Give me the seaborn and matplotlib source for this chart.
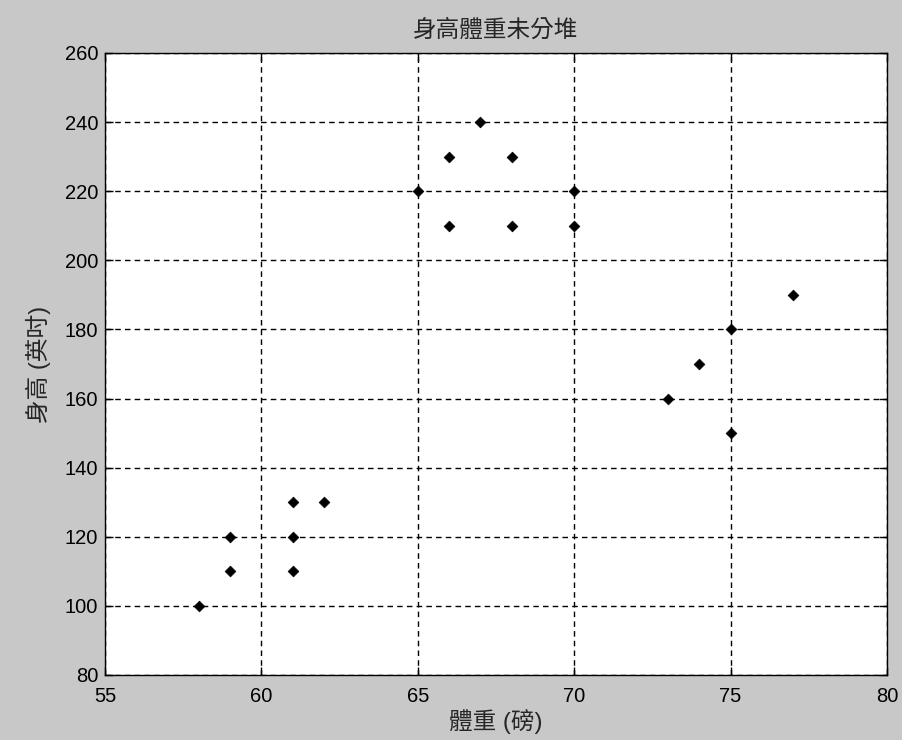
import pandas as pd
import matplotlib.pyplot as plt
import seaborn as sns

# weight (pounds) and height values
weight = [58, 59, 59, 61, 61, 61, 62,
          65, 66, 66, 67, 68, 68, 70, 70,
          73, 74, 75, 75, 77]
height = [100, 110, 120, 110, 120, 130, 130,
          220, 210, 230, 240, 230, 210, 220, 210,
          160, 170, 180, 150, 190]

x_ticks = [55, 60, 65, 70, 75, 80]
y_ticks = [80, 100, 120, 140, 160, 180, 200, 220, 240, 260]

df = pd.DataFrame({"weight": weight, "height": height})

sns.set_style("white")
plt.rcParams['font.family'] = ['Liberation Sans Narrow', 'Liberation Sans', 'Noto Sans CJK TC', 'DejaVu Sans']

fig = plt.figure(figsize=(9.02, 7.40), dpi=100, facecolor="#c8c8c8")
ax = fig.add_axes([105 / 902, 1 - 675 / 740, 782 / 902, 622 / 740])
ax.set_facecolor("white")

sns.scatterplot(data=df, x="weight", y="height", ax=ax, marker="D",
                s=30, color="black", edgecolor="black", linewidth=0.5, zorder=3)

ax.set_xlim(55, 80)
ax.set_ylim(80, 260)
ax.set_xticks(x_ticks)
ax.set_yticks(y_ticks)
ax.grid(True, linestyle=(0, (4, 3)), color="black", linewidth=1.0)
ax.tick_params(direction="in", length=6, width=1, labelsize=14.5, colors="black",
               top=True, right=True, bottom=True, left=True)
ax.tick_params(axis="x", pad=9)
ax.tick_params(axis="y", pad=5)
for sp in ax.spines.values():
    sp.set_color("black")
    sp.set_linewidth(1.0)

ax.set_title("身高體重未分堆", fontsize=17, pad=12)
ax.set_xlabel("體重 (磅)", fontsize=17, labelpad=2)
ax.set_ylabel("身高 (英吋)", fontsize=17, labelpad=10)

plt.savefig("out.png", dpi=100, facecolor=fig.get_facecolor())
